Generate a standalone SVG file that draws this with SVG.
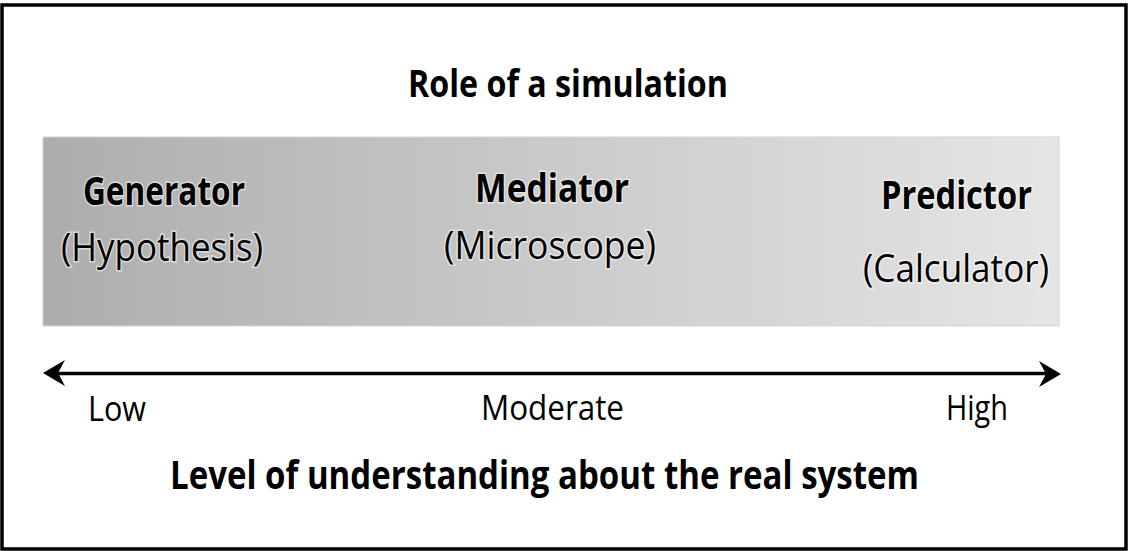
<svg xmlns="http://www.w3.org/2000/svg" width="1128" height="551" viewBox="0 0 1128 551">
  <defs>
    <linearGradient id="bandGrad" x1="0" y1="0" x2="1" y2="0">
      <stop offset="0" stop-color="#adadad"/>
      <stop offset="0.5" stop-color="#cacaca"/>
      <stop offset="1" stop-color="#e5e5e5"/>
    </linearGradient>
  </defs>
  <style>
    text { font-family: "Open Sans", "Liberation Sans", sans-serif; fill: #000; }
    .title { font-weight: bold; font-size: 38px; }
    .role { font-weight: bold; font-size: 39px; stroke: #ffffff; stroke-width: 3; stroke-opacity: 0.55; paint-order: stroke; }
    .sub { font-size: 39px; stroke: #ffffff; stroke-width: 3; stroke-opacity: 0.55; paint-order: stroke; }
    .level { font-size: 34px; }
    .axis { font-weight: bold; font-size: 40px; }
  </style>
  <rect x="2" y="5" width="1124" height="544" fill="#ffffff" stroke="#000" stroke-width="3.5"/>
  <text class="title" x="408" y="97" textLength="320" lengthAdjust="spacingAndGlyphs">Role of a simulation</text>
  <rect x="43" y="137" width="1016" height="189" fill="url(#bandGrad)" stroke="#d4d4d4" stroke-width="1"/>
  <g id="generator">
    <text class="role" x="83" y="205" textLength="162" lengthAdjust="spacingAndGlyphs">Generator</text>
    <text class="sub" x="61" y="261" textLength="202" lengthAdjust="spacingAndGlyphs">(Hypothesis)</text>
  </g>
  <g id="mediator">
    <text class="role" x="475" y="202" textLength="154" lengthAdjust="spacingAndGlyphs">Mediator</text>
    <text class="sub" x="444" y="259" textLength="212" lengthAdjust="spacingAndGlyphs">(Microscope)</text>
  </g>
  <g id="predictor">
    <text class="role" x="881" y="209" textLength="151" lengthAdjust="spacingAndGlyphs">Predictor</text>
    <text class="sub" x="863" y="282" textLength="186" lengthAdjust="spacingAndGlyphs">(Calculator)</text>
  </g>
  <g id="connectors">
    <line x1="55" y1="373.5" x2="1050" y2="373.5" stroke="#000" stroke-width="3.5"/>
    <polygon points="43,373 65,360 58,373 65,386" fill="#000"/>
    <polygon points="1061,374 1039,361 1046,374 1039,387" fill="#000"/>
  </g>
  <g id="levels">
    <text class="level" x="88" y="421" textLength="58" lengthAdjust="spacingAndGlyphs">Low</text>
    <text class="level" x="481" y="420" textLength="143" lengthAdjust="spacingAndGlyphs">Moderate</text>
    <text class="level" x="946" y="420" textLength="62" lengthAdjust="spacingAndGlyphs">High</text>
  </g>
  <text class="axis" x="170" y="489" textLength="749" lengthAdjust="spacingAndGlyphs">Level of understanding about the real system</text>
</svg>
